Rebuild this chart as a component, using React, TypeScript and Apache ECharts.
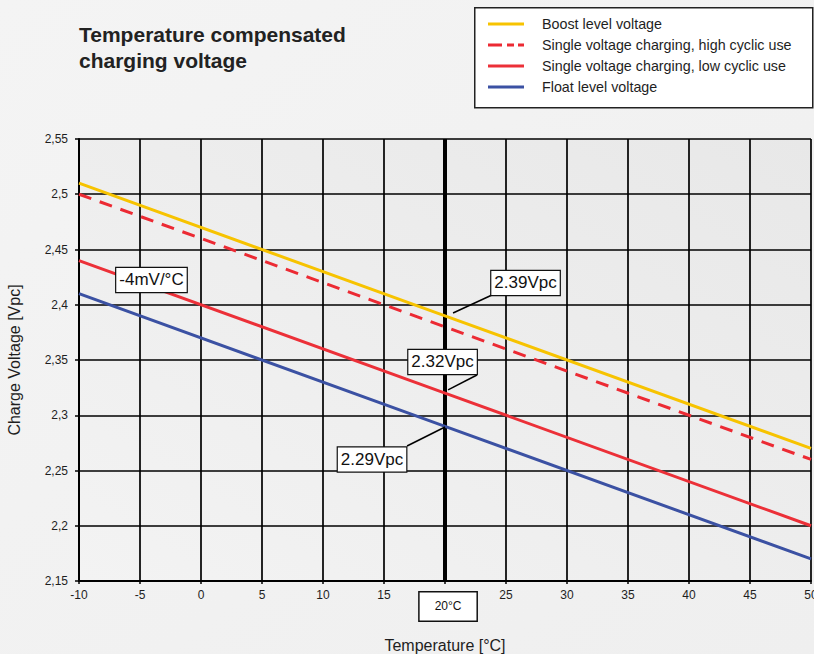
import React, { useEffect, useRef } from "react";
import * as echarts from "echarts";

const temperatures = [-10, 20, 50];
const boostLevel = [2.51, 2.39, 2.27];
const singleHighCyclic = [2.5, 2.38, 2.26];
const singleLowCyclic = [2.44, 2.32, 2.2];
const floatLevel = [2.41, 2.29, 2.17];

const seriesNames = [
  "Boost level voltage",
  "Single voltage charging, high cyclic use",
  "Single voltage charging, low cyclic use",
  "Float level voltage",
];

const referenceTemp = 20;
const annotationTexts = ["2.39Vpc", "2.32Vpc", "2.29Vpc", "-4mV/°C"];
const annotationCenters = [
  [26.6, 2.4197],
  [19.8, 2.3482],
  [14.02, 2.26],
  [-4.06, 2.4224],
];
const leaderFrom: (number[] | null)[] = [
  [20.66, 2.3925],
  [20.25, 2.3229],
  [20.0, 2.2894],
  null,
];
const leaderTo: (number[] | null)[] = [
  [23.85, 2.4088],
  [22.62, 2.3364],
  [16.89, 2.2722],
  null,
];
const axisMarkerText = "20°C";
const axisMarkerCenter = [20.25, 2.127];

const xMin = -10, xMax = 50, xStep = 5;
const yMin = 2.15, yMax = 2.55, yStep = 0.05;

const FONT = "'Liberation Sans', Arial, Helvetica, sans-serif";
const INK = "#1e1e1e";

const solidIcon = "path://M0,0h36v3h-36z";
const dashedIcon = "path://M0,0h14v3h-14z M19,0h7v3h-7z M30,0h6v3h-6z";

function pairs(ys: number[]) {
  return temperatures.map((t, i) => [t, ys[i]]);
}

export default function App() {
  const ref = useRef<HTMLDivElement>(null);
  useEffect(() => {
    if (!ref.current) return;
    const chart = echarts.init(ref.current, null, { renderer: "svg" });
    const lineCommon = {
      type: "line",
      showSymbol: false,
      symbol: "none",
      silent: true,
      z: 3,
    };
    chart.setOption({
      animation: false,
      backgroundColor: new echarts.graphic.LinearGradient(0, 0, 1, 1, [
        { offset: 0, color: "#f4f4f4" },
        { offset: 1, color: "#efefef" },
      ]),
      textStyle: { fontFamily: FONT },
      title: {
        text: "Temperature compensated\ncharging voltage",
        left: 79,
        top: 21,
        padding: 0,
        textStyle: {
          fontFamily: FONT,
          fontSize: 21,
          fontWeight: "bold",
          color: "#222",
          lineHeight: 26,
        },
      },
      graphic: [
        {
          type: "rect",
          left: 474,
          top: 7,
          shape: { x: 0, y: 0, width: 338, height: 100 },
          style: { fill: "#ffffff", stroke: "#222", lineWidth: 1.5 },
          z: -1,
        },
      ],
      legend: {
        orient: "vertical",
        left: 488,
        top: 17,
        padding: 0,
        itemWidth: 36,
        itemHeight: 3,
        itemGap: 7,
        data: seriesNames.map((n, i) => ({
          name: n,
          icon: i === 1 ? dashedIcon : solidIcon,
        })),
        textStyle: {
          fontFamily: FONT,
          fontSize: 14.3,
          lineHeight: 14,
          color: INK,
          padding: [0, 0, 0, 13],
        },
        selectedMode: false,
      },
      grid: {
        left: 79,
        right: 3,
        top: 139,
        bottom: 73,
        show: true,
        borderWidth: 0,
        outerBoundsMode: "none",
        containLabel: false,
        backgroundColor: new echarts.graphic.LinearGradient(0, 1, 1, 0, [
          { offset: 0, color: "#f3f3f3" },
          { offset: 1, color: "#e8e8e8" },
        ]),
      },
      xAxis: {
        type: "value",
        min: xMin,
        max: xMax,
        interval: xStep,
        name: "Temperature [°C]",
        nameLocation: "middle",
        nameGap: 56,
        nameTextStyle: { fontFamily: FONT, fontSize: 16, color: INK },
        axisLine: { show: true, onZero: false, lineStyle: { color: "#000", width: 2 } },
        axisTick: { show: true, length: 3, lineStyle: { color: "#000", width: 1.5 } },
        axisLabel: {
          fontFamily: FONT,
          fontSize: 12,
          color: INK,
          margin: 8,
          formatter: (v: number) => (v === referenceTemp ? "" : String(v)),
        },
        splitLine: { show: true, lineStyle: { color: "#000", width: 1.7 } },
      },
      yAxis: {
        type: "value",
        min: yMin,
        max: yMax,
        interval: yStep,
        name: "Charge Voltage [Vpc]",
        nameLocation: "middle",
        nameGap: 57,
        nameTextStyle: { fontFamily: FONT, fontSize: 16, color: INK },
        axisLine: { show: true, onZero: false, lineStyle: { color: "#000", width: 2 } },
        axisTick: { show: true, length: 4, lineStyle: { color: "#000", width: 1.5 } },
        axisLabel: {
          fontFamily: FONT,
          fontSize: 12,
          color: INK,
          margin: 11,
          formatter: (v: number) => String(Math.round(v * 100) / 100).replace(".", ","),
        },
        splitLine: { show: true, lineStyle: { color: "#000", width: 1.7 } },
      },
      series: [
        {
          ...lineCommon,
          name: seriesNames[0],
          data: pairs(boostLevel),
          lineStyle: { color: "#f7c300", width: 3 },
          itemStyle: { color: "#f7c300" },
          markLine: {
            silent: true,
            symbol: ["none", "none"],
            label: { show: false },
            lineStyle: { color: "#000", width: 4, type: "solid" },
            data: [{ xAxis: referenceTemp }],
            z: 2,
          },
        },
        {
          ...lineCommon,
          name: seriesNames[1],
          data: pairs(singleHighCyclic),
          lineStyle: { color: "#ec2a33", width: 3, type: [13, 9] },
          itemStyle: { color: "#ec2a33" },
        },
        {
          ...lineCommon,
          name: seriesNames[2],
          data: pairs(singleLowCyclic),
          lineStyle: { color: "#ec3038", width: 3 },
          itemStyle: { color: "#ec3038" },
        },
        {
          ...lineCommon,
          name: seriesNames[3],
          data: pairs(floatLevel),
          lineStyle: { color: "#3b51a3", width: 3 },
          itemStyle: { color: "#3b51a3" },
        },
        {
          type: "custom",
          name: "annotations",
          coordinateSystem: "cartesian2d",
          clip: false,
          silent: true,
          z: 10,
          data: annotationCenters,
          renderItem: (params: any, api: any) => {
            const i = params.dataIndex;
            const c = api.coord(annotationCenters[i]);
            const children: any[] = [];
            const f = leaderFrom[i];
            const t = leaderTo[i];
            if (f && t) {
              const p1 = api.coord(f);
              const p2 = api.coord(t);
              children.push({
                type: "line",
                shape: { x1: p1[0], y1: p1[1], x2: p2[0], y2: p2[1] },
                style: { stroke: "#000", lineWidth: 1.5 },
              });
            }
            children.push({
              type: "text",
              x: c[0],
              y: c[1],
              style: {
                text: annotationTexts[i],
                fontFamily: FONT,
                fontSize: 17,
                fill: "#111",
                align: "center",
                verticalAlign: "middle",
                backgroundColor: "#ffffff",
                borderColor: "#111",
                borderWidth: 1.2,
                padding: [4, 3, 3, 3],
              },
            });
            return { type: "group", children };
          },
        },
        {
          type: "custom",
          name: "axisMarker",
          coordinateSystem: "cartesian2d",
          clip: false,
          silent: true,
          z: 10,
          data: [axisMarkerCenter],
          renderItem: (params: any, api: any) => {
            const c = api.coord(axisMarkerCenter);
            return {
              type: "text",
              x: c[0],
              y: c[1],
              style: {
                text: axisMarkerText,
                fontFamily: FONT,
                fontSize: 12,
                fill: "#111",
                align: "center",
                verticalAlign: "middle",
                backgroundColor: "#ffffff",
                borderColor: "#111",
                borderWidth: 1.5,
                padding: [8, 15, 8, 15],
              },
            };
          },
        },
      ],
    });
    return () => chart.dispose();
  }, []);
  return (
    <div
      ref={ref}
      style={{ position: "fixed", left: 0, top: 0, width: 814, height: 654 }}
    />
  );
}
